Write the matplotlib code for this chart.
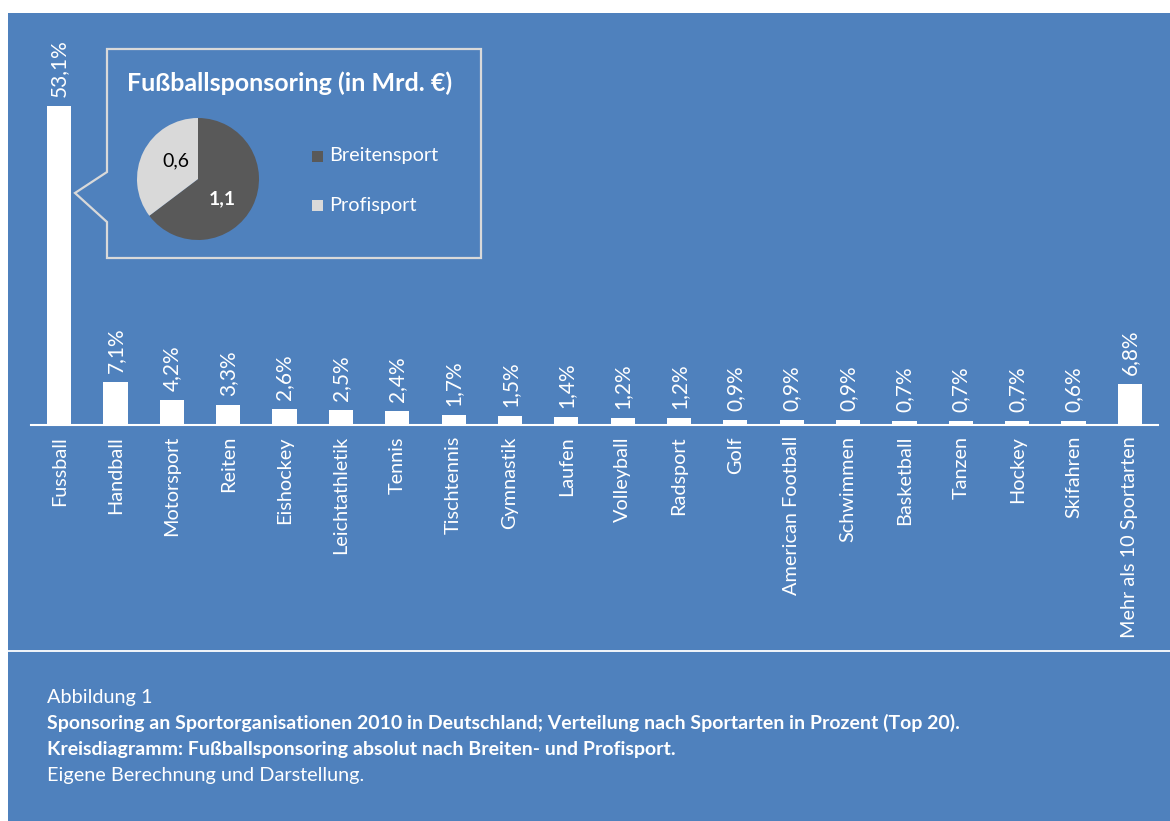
import numpy as np
import matplotlib.pyplot as plt
from matplotlib.patches import Polygon, Rectangle

plt.rcParams['font.family'] = ['Lato', 'DejaVu Sans']

sports = ["Fussball", "Handball", "Motorsport", "Reiten", "Eishockey",
          "Leichtathletik", "Tennis", "Tischtennis", "Gymnastik", "Laufen",
          "Volleyball", "Radsport", "Golf", "American Football", "Schwimmen",
          "Basketball", "Tanzen", "Hockey", "Skifahren", "Mehr als 10 Sportarten"]
shares = [53.1, 7.1, 4.2, 3.3, 2.6, 2.5, 2.4, 1.7, 1.5, 1.4,
          1.2, 1.2, 0.9, 0.9, 0.9, 0.7, 0.7, 0.7, 0.6, 6.8]

pie_labels = ["Breitensport", "Profisport"]
pie_values = [1.1, 0.6]
pie_colors = ["#595959", "#d9d9d9"]

BLUE = "#4f81bd"
W, H = 1170, 821

fig = plt.figure(figsize=(W / 100, H / 100), dpi=100)
fig.patch.set_facecolor("white")


def rect(x0, y0, x1, y1):
    # pixel box (top-left origin) -> figure fraction
    return [x0 / W, 1 - y1 / H, (x1 - x0) / W, (y1 - y0) / H]


def pixel_axes(z):
    a = fig.add_axes([0, 0, 1, 1], zorder=z)
    a.set_xlim(0, W)
    a.set_ylim(H, 0)
    a.axis("off")
    return a


# background
bg = pixel_axes(0)
bg.add_patch(Rectangle((8, 13), W - 8, H - 13, color=BLUE, lw=0))
bg.plot([8, W], [651, 651], color="white", lw=1.3)

# bar chart
ax = fig.add_axes(rect(31, 13, 1158, 425), zorder=1)
ax.patch.set_alpha(0)
x = np.arange(len(sports))
ax.bar(x, shares, width=0.43, color="white")
ax.set_xlim(-0.5, len(sports) - 0.5)
ax.set_ylim(0, 412 / 6.008)
for s in ["top", "left", "right"]:
    ax.spines[s].set_visible(False)
ax.spines["bottom"].set_color("white")
ax.spines["bottom"].set_linewidth(1.5)
ax.set_yticks([])
ax.set_xticks(x)
ax.set_xticklabels(sports, rotation=90, color="white", fontsize=14.3, va="top")
ax.tick_params(axis="x", length=0, pad=8)
for xi, v in zip(x, shares):
    ax.annotate(f"{v:.1f}%".replace(".", ","), (xi, v), xytext=(0, 6.5),
                textcoords="offset points", rotation=90, ha="center", va="bottom",
                color="white", fontsize=15)

# callout box
ov = pixel_axes(2)
ov.add_patch(Polygon([(107, 49), (481, 49), (481, 258), (107, 258), (107, 222),
                      (75, 193), (107, 172)], closed=True, facecolor=BLUE,
                     edgecolor="#d9d9d9", lw=1.6))
ov.text(127, 83, "Fußballsponsoring (in Mrd. €)", color="white", fontsize=18,
        fontweight="bold", va="center", ha="left")
for i, (lab, col) in enumerate(zip(pie_labels, pie_colors)):
    yy = 157 + i * 49
    ov.add_patch(Rectangle((312, yy - 5.5), 11, 11, color=col, lw=0))
    ov.text(329, yy - 1, lab, color="white", fontsize=14.3, va="center", ha="left")

# pie
pa = fig.add_axes(rect(137, 118, 259, 240), zorder=3)
pa.pie(pie_values, colors=pie_colors, startangle=90, counterclock=False, radius=1)
pa.set_xlim(-1, 1)
pa.set_ylim(-1, 1)
pa.set_aspect("equal")

top = pixel_axes(4)
top.text(176, 161, "0,6", color="black", fontsize=14, ha="center", va="center")
top.text(222, 199, "1,1", color="white", fontsize=14, fontweight="bold",
         ha="center", va="center")

# caption
top.text(47, 697, "Abbildung 1", color="white", fontsize=14.3, va="center")
top.text(47, 723, "Sponsoring an Sportorganisationen 2010 in Deutschland; Verteilung nach "
         "Sportarten in Prozent (Top 20).", color="white", fontsize=14,
         fontweight="bold", va="center")
top.text(47, 749, "Kreisdiagramm: Fußballsponsoring absolut nach Breiten- und Profisport.",
         color="white", fontsize=14, fontweight="bold", va="center")
top.text(47, 775, "Eigene Berechnung und Darstellung.", color="white", fontsize=14.3,
         va="center")

fig.savefig("out.png", dpi=100, facecolor=fig.get_facecolor())
